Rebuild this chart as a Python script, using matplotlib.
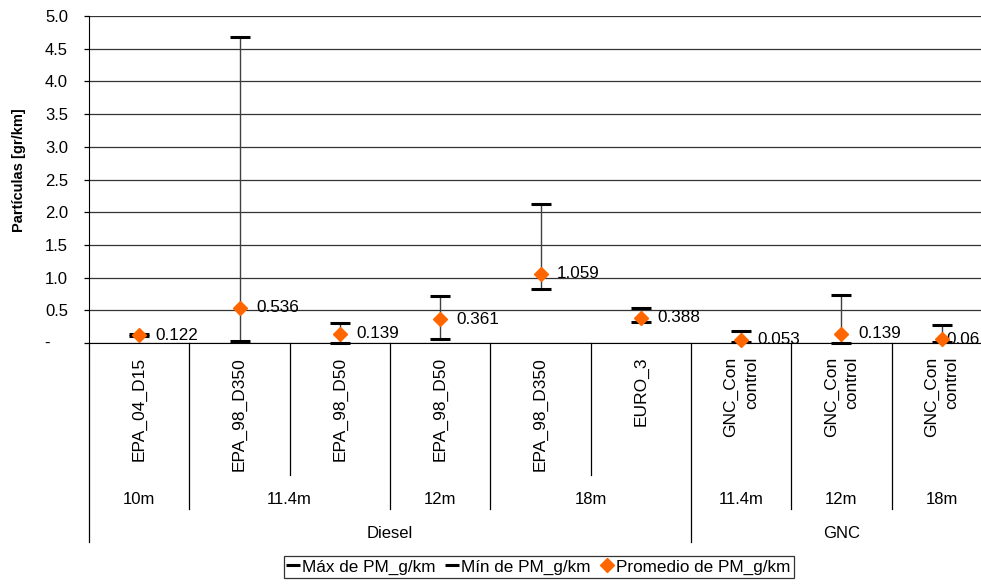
import matplotlib
matplotlib.use("Agg")
import matplotlib.pyplot as plt
import matplotlib.transforms as mtrans
from matplotlib.lines import Line2D

plt.rcParams['font.family'] = ['Liberation Sans', 'DejaVu Sans']

categories = ['EPA_04_D15', 'EPA_98_D350', 'EPA_98_D50', 'EPA_98_D50', 'EPA_98_D350',
              'EURO_3', 'GNC_Con\ncontrol', 'GNC_Con\ncontrol', 'GNC_Con\ncontrol']
lengths = ['10m', '11.4m', '11.4m', '12m', '18m', '18m', '11.4m', '12m', '18m']
groups = ['Diesel'] * 6 + ['GNC'] * 3
max_pm = [0.14, 4.68, 0.30, 0.72, 2.13, 0.54, 0.18, 0.73, 0.28]
min_pm = [0.11, 0.03, 0.00, 0.06, 0.82, 0.32, 0.02, 0.00, 0.02]
mean_pm = [0.122, 0.536, 0.139, 0.361, 1.059, 0.388, 0.053, 0.139, 0.06]
mean_labels = ['0.122', '0.536', '0.139', '0.361', '1.059', '0.388', '0.053', '0.139', '0.06']
yticks = [0.5, 1.0, 1.5, 2.0, 2.5, 3.0, 3.5, 4.0, 4.5, 5.0]

W, H = 981, 584
fig = plt.figure(figsize=(W / 100, H / 100), dpi=100)
left_px, right_px, top_px, zero_px = 89, 992, 16, 343
ax = fig.add_axes([left_px / W, 1 - zero_px / H, (right_px - left_px) / W, (zero_px - top_px) / H])

def fy(px):
    return 1 - px / H

n = len(categories)
x = list(range(n))
ax.set_xlim(-0.5, n - 0.5)
ax.set_ylim(0, 5.0)

# grid and y axis
ax.set_yticks([0] + yticks)
ax.set_yticklabels([''] + [f'{v:.1f}' for v in yticks], fontsize=12)
ax.yaxis.grid(True, color='#333333', lw=0.9)
ax.set_axisbelow(True)
ax.tick_params(axis='y', direction='out', length=3.6, width=0.9, pad=11.5, color='black')
ax.set_xticks([])
for s in ['top', 'right']:
    ax.spines[s].set_visible(False)
ax.spines['left'].set_color('black')
ax.spines['bottom'].set_color('black')

ytr = mtrans.blended_transform_factory(fig.transFigure, ax.transData)
ax.text(47 / W, 0, '-', transform=ytr, ha='center', va='center', fontsize=12)

fig.text(19 / W, fy(170), 'Partículas [gr/km]', rotation=90, ha='center', va='center',
         fontsize=10.5, fontweight='bold')

# high-low lines with max/min caps and mean markers
ax.vlines(x, min_pm, max_pm, color='#404040', lw=1.0, zorder=3)
ax.plot(x, max_pm, ls='none', marker='_', ms=15, mew=2.2, color='black', zorder=4, clip_on=False)
ax.plot(x, min_pm, ls='none', marker='_', ms=15, mew=2.2, color='black', zorder=4, clip_on=False)
ax.plot(x, mean_pm, ls='none', marker='D', ms=7.5, color='#FF6600', mec='#FF6600', zorder=5,
        clip_on=False)
for i, (xi, v, lab) in enumerate(zip(x, mean_pm, mean_labels)):
    off = 12 if i < n - 1 else 3
    ax.annotate(lab, (xi, v), xytext=(off, 0), textcoords='offset points',
                ha='left', va='center', fontsize=12.3, annotation_clip=False)

# multi-level category axis
tr = mtrans.blended_transform_factory(ax.transData, fig.transFigure)
row1_end, row2_end, row3_end = 475, 509, 542
for i, c in enumerate(categories):
    ax.text(i, fy(357), c, transform=tr, rotation=90, ha='center', va='top',
            multialignment='right', fontsize=12.5, linespacing=1.45)

def spans(labels):
    out = []
    start = 0
    for i in range(1, len(labels) + 1):
        if i == len(labels) or labels[i] != labels[start]:
            out.append((start, i - 1, labels[start]))
            start = i
    return out

len_keys = [g + '|' + l for g, l in zip(groups, lengths)]
for s, e, lab in spans(len_keys):
    ax.text((s + e) / 2, fy(500), lab.split('|')[1], transform=tr, ha='center', va='center', fontsize=12)
for s, e, lab in spans(groups):
    ax.text((s + e) / 2, fy(533), lab, transform=tr, ha='center', va='center', fontsize=12)

len_bounds = {e + 0.5 for s, e, _ in spans(len_keys)}
grp_bounds = {e + 0.5 for s, e, _ in spans(groups)}
bounds = [-0.5] + [i + 0.5 for i in range(n)]
for b in bounds:
    if b == -0.5 or b in grp_bounds:
        end = row3_end
    elif b in len_bounds:
        end = row2_end
    else:
        end = row1_end
    ax.add_line(Line2D([b, b], [fy(zero_px), fy(end)], transform=tr, color='black', lw=0.9, clip_on=False))

# legend
handles = [Line2D([], [], ls='none', marker='_', ms=10, mew=2.2, color='black'),
           Line2D([], [], ls='none', marker='_', ms=10, mew=2.2, color='black'),
           Line2D([], [], ls='none', marker='D', ms=7, color='#FF6600')]
leg = fig.legend(handles, ['Máx de PM_g/km', 'Mín de PM_g/km', 'Promedio de PM_g/km'],
                 loc='upper center', bbox_to_anchor=(539 / W, fy(556)), ncol=3, fontsize=12.3,
                 frameon=True, fancybox=False, edgecolor='black', handlelength=0.6,
                 handletextpad=0.2, columnspacing=0.7, borderpad=0.2, borderaxespad=0)
leg.get_frame().set_linewidth(0.9)

fig.savefig('out.png', dpi=100)
